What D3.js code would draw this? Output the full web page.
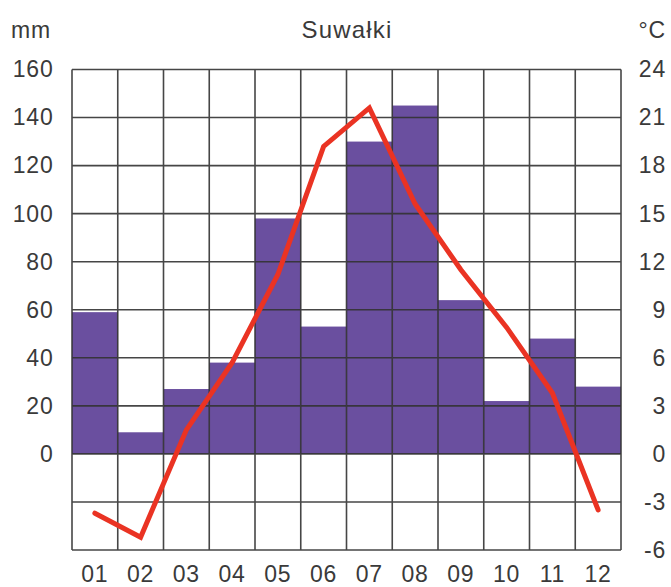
<!DOCTYPE html>
<html>
<head>
<meta charset="utf-8">
<script src="https://cdn.jsdelivr.net/npm/d3@7"></script>
<style>
  html, body { margin: 0; padding: 0; background: #fff; }
  svg text { font-family: "Liberation Sans", Arial, sans-serif; fill: #3a3a3a; }
</style>
</head>
<body>
<svg id="chart" width="671" height="587"></svg>
<script>
const months = ["01","02","03","04","05","06","07","08","09","10","11","12"];
const precipitation = [59, 9, 27, 38, 98, 53, 130, 145, 64, 22, 48, 28];
const temperature = [-3.7, -5.2, 1.5, 5.7, 11.2, 19.2, 21.6, 15.6, 11.5, 7.9, 3.8, -3.5];
const precipTicks = [0, 20, 40, 60, 80, 100, 120, 140, 160];
const gridTicks = [-40, -20, 0, 20, 40, 60, 80, 100, 120, 140, 160];
const tempTicks = [-6, -3, 0, 3, 6, 9, 12, 15, 18, 21, 24];
const title = "Suwałki";
const leftUnit = "mm";
const rightUnit = "°C";

const svg = d3.select("#chart");
const L = 72, R = 621, T = 69.5, B = 550;

const x = d3.scaleBand().domain(months).range([L, R]).padding(0);
const yP = d3.scaleLinear().domain([-40, 160]).range([B, T]);
const yT = d3.scaleLinear().domain([-6, 24]).range([B, T]);

// bars
svg.append("g").selectAll("rect").data(precipitation).join("rect")
  .attr("x", (d, i) => x(months[i]))
  .attr("width", x.bandwidth())
  .attr("y", d => yP(d))
  .attr("height", d => yP(0) - yP(d))
  .attr("fill", "#6a4f9f");

// grid
const grid = svg.append("g").attr("stroke", "#333").attr("stroke-width", 1.6).attr("opacity", 0.9);
grid.selectAll("line.h").data(gridTicks).join("line").attr("class", "h")
  .attr("x1", L).attr("x2", R).attr("y1", d => yP(d)).attr("y2", d => yP(d));
const vlines = months.map(m => x(m)).concat([R]);
grid.selectAll("line.v").data(vlines).join("line").attr("class", "v")
  .attr("x1", d => d).attr("x2", d => d).attr("y1", T).attr("y2", B);

// temperature line
const line = d3.line()
  .x((d, i) => x(months[i]) + x.bandwidth() / 2)
  .y(d => yT(d));
svg.append("path").datum(temperature)
  .attr("d", line)
  .attr("fill", "none")
  .attr("stroke", "#ea3323")
  .attr("stroke-width", 5)
  .attr("stroke-linejoin", "miter")
  .attr("stroke-linecap", "round");

// axes (labels)
const fs = 23, ls = 0.8;
const leftAxis = svg.append("g").attr("transform", `translate(${L - 18.5},0)`)
  .call(d3.axisLeft(yP).tickValues(precipTicks).tickSize(0).tickPadding(0).tickFormat(d3.format("d")));
const rightAxis = svg.append("g").attr("transform", `translate(${666},0)`)
  .call(d3.axisLeft(yT).tickValues(tempTicks).tickSize(0).tickPadding(0).tickFormat(d => d));
const bottomAxis = svg.append("g").attr("transform", `translate(0,${B})`)
  .call(d3.axisBottom(x).tickSize(0).tickPadding(0));
[leftAxis, rightAxis, bottomAxis].forEach(a => {
  a.select(".domain").remove();
  a.attr("font-family", null).attr("font-size", null);
  a.selectAll("text").attr("font-size", fs).attr("letter-spacing", ls).style("fill", "#3a3a3a");
});
bottomAxis.selectAll("text").attr("dy", null).attr("y", 32);

svg.append("text").attr("x", 347).attr("y", 38).attr("text-anchor", "middle")
  .attr("font-size", 24).attr("letter-spacing", 1.2).text(title);
svg.append("text").attr("x", 11).attr("y", 38).attr("font-size", fs).attr("letter-spacing", ls).text(leftUnit);
svg.append("text").attr("x", 666).attr("y", 38).attr("text-anchor", "end").attr("font-size", fs).attr("letter-spacing", ls).text(rightUnit);
</script>
</body>
</html>
